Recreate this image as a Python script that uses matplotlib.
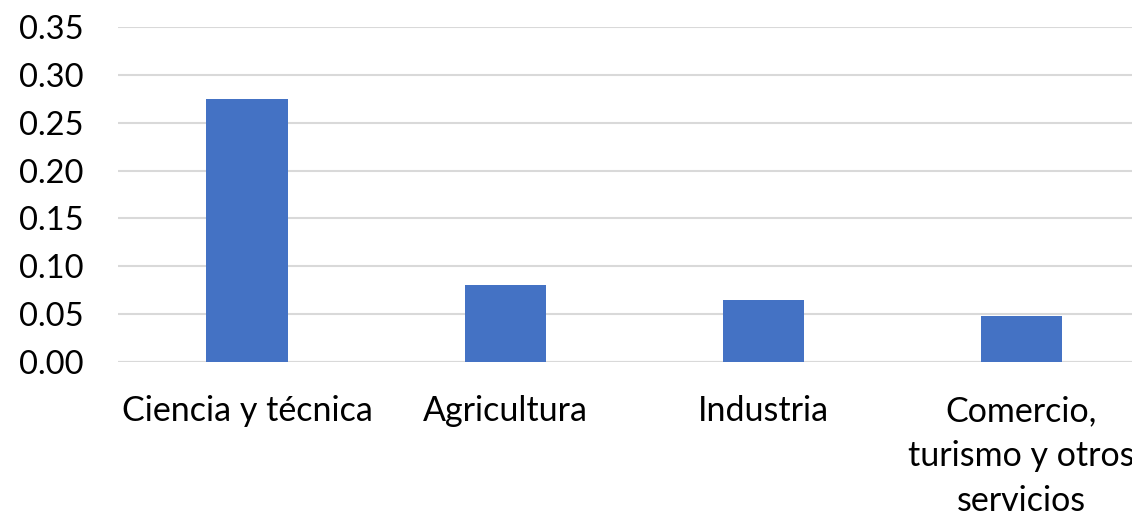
import matplotlib.pyplot as plt

sectores = ['Ciencia y técnica', 'Agricultura', 'Industria',
            'Comercio,\nturismo y otros\nservicios']
valores = [0.275, 0.081, 0.065, 0.048]
yticks = [0.00, 0.05, 0.10, 0.15, 0.20, 0.25, 0.30, 0.35]

plt.rcParams['font.family'] = ['Lato', 'DejaVu Sans']

fig = plt.figure(figsize=(11.32, 5.15), dpi=100)
ax = fig.add_axes([0.1042, 0.297, 0.912, 0.6506])

x = range(len(sectores))
ax.bar(x, valores, width=0.314, color='#4472C4', zorder=2)

ax.set_xlim(-0.5, len(sectores) - 0.5)
ax.set_ylim(0, 0.35)
ax.set_yticks(yticks)
ax.set_yticklabels([f'{v:.2f}' for v in yticks])
ax.set_xticks(list(x))
ax.set_xticklabels(sectores, linespacing=1.5)

ax.grid(axis='y', color='#d9d9d9', linewidth=1.5, zorder=0)
ax.tick_params(axis='both', length=0, labelcolor='black')
ax.tick_params(axis='y', labelsize=23.5, pad=25)
ax.tick_params(axis='x', labelsize=24.5, pad=24)
for s in ax.spines.values():
    s.set_visible(False)
ax.axhline(0, color='#d9d9d9', linewidth=1.5, zorder=1)

plt.savefig('out.png', dpi=100)
